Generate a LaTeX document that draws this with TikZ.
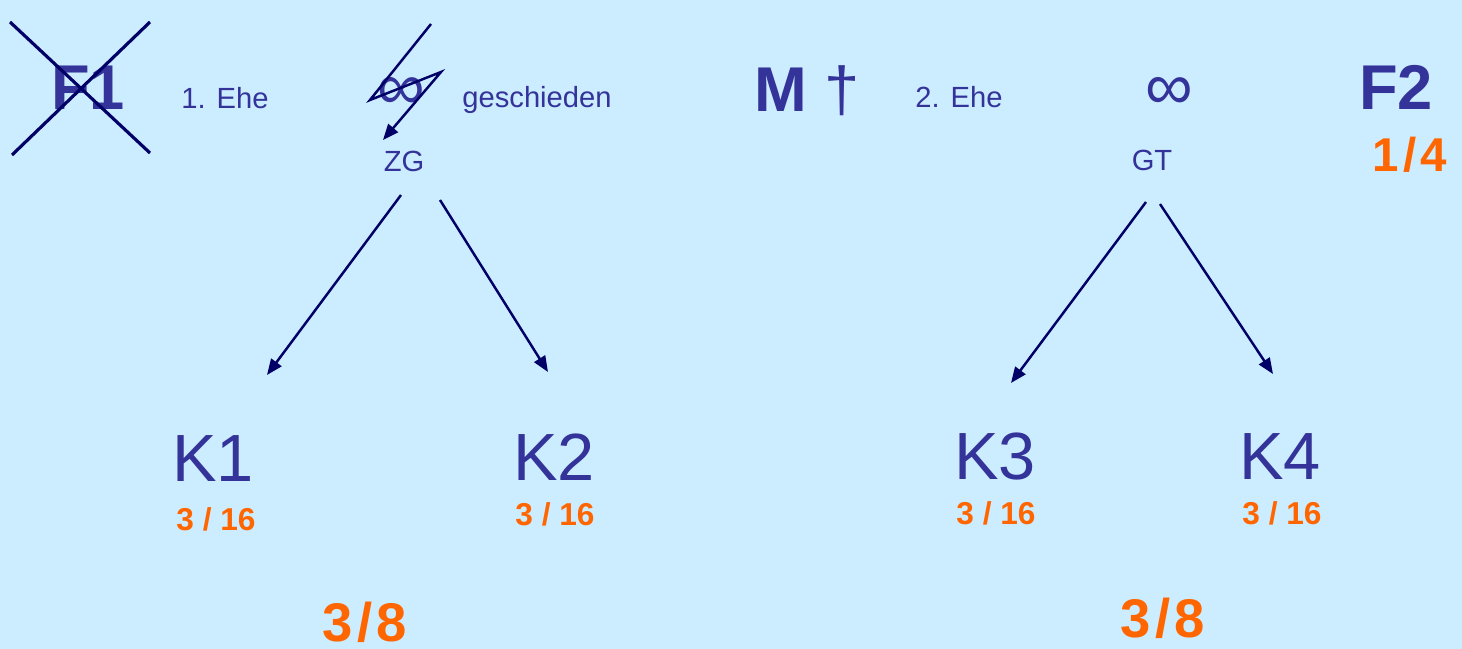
\documentclass[tikz,border=0pt]{standalone}
\usepackage{fontspec}
\setmainfont{Liberation Sans}
\usetikzlibrary{calc,arrows.meta}
\definecolor{bgblue}{HTML}{CCECFF}
\definecolor{ink}{HTML}{333399}
\definecolor{navy}{HTML}{000066}
\definecolor{share}{HTML}{FF6600}
\tikzset{
  person/.style={text=ink,font=\bfseries\fontsize{18}{20}\selectfont,inner sep=0pt},
  kid/.style={text=ink,font=\fontsize{19}{22}\selectfont,inner sep=0pt},
  lbl/.style={text=ink,font=\fontsize{8.3}{10}\selectfont,inner sep=0pt},
  ring/.style={text=ink,font=\fontsize{19}{21}\selectfont,inner sep=0pt},
  part/.style={text=share,font=\bfseries\fontsize{9}{11}\selectfont,inner sep=0pt},
  total/.style={text=share,font=\bfseries\fontsize{15.5}{18}\selectfont,inner sep=0pt,anchor=base},
  arr/.style={navy,line width=0.7pt,-{Triangle[length=4.5pt,width=3.6pt]}},
}
\newcommand{\sharefrac}[2]{#1\kern1.2pt/\kern1.2pt#2}
\begin{document}
\begin{tikzpicture}[x=0.1mm,y=-0.1mm]
  \fill[bgblue] (0,0) rectangle (1462,649);

  % first marriage
  \node[person] (f1) at (88,88) {F1};
  \draw[navy,line width=0.9pt] (10,22) -- (150,153) (12,155) -- (150,22);
  \node[lbl] (ehe1) at (225,98) {1. Ehe};
  \node[ring] (inf1) at (401,93) {∞};
  \node[lbl,anchor=base] (gesch) at (537,108) {geschieden};
  \node[lbl] (zg) at (404,161) {ZG};
  \draw[arr] (431,24) -- (370,100) -- (441,72) -- (383,140);

  % second marriage
  \node[person,anchor=base] (m) at (807,112) {M {\mdseries †}};
  \node[lbl,anchor=base] (ehe2) at (959,108) {2. Ehe};
  \node[ring] (inf2) at (1169,93) {∞};
  \node[lbl] (gt) at (1152,160) {GT};
  \node[person] (f2) at (1396,87) {F2};
  \node[total,font=\bfseries\fontsize{13.5}{15}\selectfont] (f2s) at (1410,172) {\sharefrac{1}{4}};

  % children
  \node[kid] (k1) at (213,459) {K1};
  \node[part] (k1s) at (216,519) {3 / 16};
  \node[kid] (k2) at (554,457) {K2};
  \node[part] (k2s) at (555,514) {3 / 16};
  \node[kid] (k3) at (995,457) {K3};
  \node[part] (k3s) at (996,513) {3 / 16};
  \node[kid] (k4) at (1280,457) {K4};
  \node[part] (k4s) at (1282,513) {3 / 16};

  \node[total] (sum1) at (365,641) {\sharefrac{3}{8}};
  \node[total] (sum2) at (1163,637) {\sharefrac{3}{8}};

  \draw[arr] ($(zg)+(-3,34)$) -- ($(k1)+(54,-84)$);
  \draw[arr] ($(zg)+(36,39)$) -- ($(k2)+(-6,-85)$);
  \draw[arr] ($(gt)+(-6,42)$) -- ($(k3)+(16,-74)$);
  \draw[arr] ($(gt)+(8,44)$) -- ($(k4)+(-7,-83)$);
\end{tikzpicture}
\end{document}
